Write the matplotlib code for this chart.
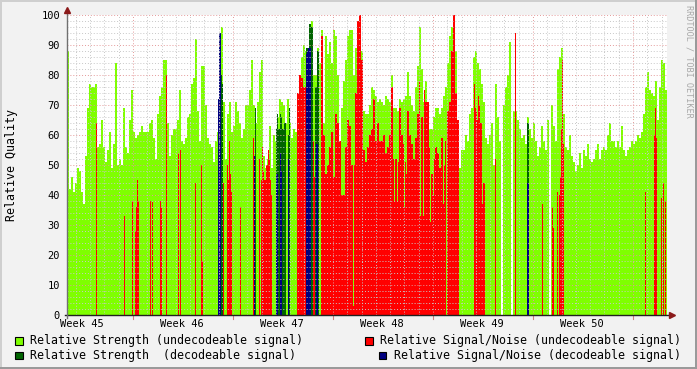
import matplotlib
matplotlib.use('Agg')
import matplotlib.pyplot as plt
from matplotlib.patches import Rectangle
import numpy as np

# ==========================================
# data: 1 column = 1/100 week, 600 columns (week 45 .. week 50)
# ==========================================
N_COLS = 600

# Relative Strength (undecodeable), one value per 2 columns
strength_undec = [
    # c0-99
    88, 42, 46, 41, 44, 49, 48, 41, 37, 53, 69, 77, 76, 76, 77, 56, 57, 65, 56, 51,
    55, 61, 49, 57, 84, 50, 52, 50, 69, 56, 54, 65, 75, 61, 59, 60, 61, 63, 61, 61,
    61, 64, 65, 59, 52, 67, 73, 76, 85, 85,
    # c100-199
    64, 53, 60, 62, 62, 65, 75, 58, 57, 59, 66, 67, 77, 79, 92, 68, 58, 83, 83, 70,
    59, 57, 56, 51, 58, 61, 90, 96, 71, 52, 67, 71, 61, 63, 71, 68, 64, 59, 62, 70,
    70, 75, 85, 70, 64, 71, 81, 85, 53, 49,
    # c200-299
    52, 63, 49, 60, 58, 66, 72, 71, 70, 64, 72, 64, 59, 62, 61, 63, 79, 86, 90, 88,
    89, 96, 98, 80, 80, 89, 84, 95, 64, 93, 87, 91, 84, 95, 93, 80, 58, 69, 78, 85,
    93, 95, 95, 80, 89, 98, 88, 88, 68, 67,
    # c300-399
    67, 70, 76, 75, 73, 71, 72, 71, 70, 73, 72, 71, 80, 69, 69, 68, 72, 71, 72, 73,
    81, 73, 70, 68, 76, 83, 96, 82, 71, 78, 70, 62, 62, 66, 69, 69, 67, 69, 73, 76,
    84, 93, 96, 93, 88, 55, 49, 55, 55, 60,
    # c400-499
    58, 67, 69, 86, 88, 84, 82, 77, 71, 59, 57, 60, 64, 50, 77, 66, 58, 0, 70, 76,
    80, 91, 0, 68, 68, 65, 62, 59, 60, 57, 66, 62, 59, 64, 58, 53, 56, 63, 58, 55,
    65, 0, 70, 63, 58, 82, 86, 89, 67, 56,
    # c500-599
    55, 60, 53, 51, 48, 50, 54, 49, 55, 53, 57, 52, 51, 52, 55, 57, 52, 55, 56, 55,
    60, 64, 58, 58, 56, 58, 56, 63, 55, 53, 55, 56, 58, 57, 58, 60, 59, 61, 67, 76,
    81, 75, 74, 73, 78, 65, 76, 85, 84, 75,
]

# Relative Signal/Noise (undecodeable): dense block from column 230, 2 columns per value
snr_block_start = 230
snr_undec_block = [
    74, 80, 79, 76, 0, 0, 0, 0, 52, 0, 41, 0, 93, 60, 47, 50, 56, 61, 46, 67,
    64, 58, 40, 40, 56, 65, 63, 50, 50, 74, 98, 100, 85, 55, 51,
    56, 60, 62, 72, 58, 64, 58, 58, 60, 54, 56, 60, 76, 52, 52, 51, 69, 60, 57, 51,
    68, 60, 57, 52, 59, 67, 78, 66, 75, 71, 71, 56, 47, 52, 56, 54, 49, 59, 50, 58,
    68, 71, 88, 100, 74, 65,
]
# single columns (column, value)
snr_undec_cols = [
    (29, 64), (57, 33), (65, 38), (68, 28), (69, 36), (70, 45), (71, 38), (83, 38),
    (85, 38), (93, 38), (94, 36), (99, 80),
    (111, 54), (113, 55), (128, 44), (134, 50), (135, 18), (156, 44), (160, 50),
    (161, 45), (162, 58), (163, 47), (164, 41), (173, 36), (186, 59), (192, 52),
    (194, 45), (195, 56), (196, 48), (197, 45), (198, 45), (199, 50),
    (200, 50), (201, 55), (202, 52), (203, 45), (204, 40), (238, 76), (246, 58),
    (247, 46), (286, 3),
    (327, 38), (330, 38), (337, 36), (339, 47), (353, 33), (356, 33), (363, 31),
    (366, 40), (376, 37), (379, 0),
    (407, 77), (408, 69), (409, 68), (410, 65), (411, 73), (412, 70), (413, 64),
    (414, 64), (415, 37), (416, 44), (417, 44), (428, 52), (448, 94), (475, 37),
    (485, 36), (486, 29), (490, 41), (492, 40), (493, 46), (494, 62), (495, 85),
    (496, 57),
    (578, 41), (587, 60), (588, 69), (589, 59), (594, 39), (596, 44), (598, 38),
]

# Relative Strength (decodeable)
strength_dec_cols = [
    (153, 85), (154, 80), (155, 77), (188, 69), (209, 62), (210, 67), (211, 62),
    (212, 62), (213, 67), (214, 66), (215, 62), (216, 62), (217, 64), (218, 64),
    (221, 60), (222, 69), (239, 89), (240, 89), (241, 89), (242, 97), (243, 97),
    (244, 96), (245, 96), (248, 76), (249, 76), (250, 88), (251, 88), (460, 64),
    (461, 64),
]
# Relative Signal/Noise (decodeable)
snr_dec_cols = [
    (151, 72), (152, 94), (153, 94), (187, 53), (209, 47), (210, 47), (213, 54),
    (214, 48), (221, 52), (239, 87), (240, 88), (241, 89), (242, 89), (243, 89),
    (249, 57), (250, 57), (460, 44), (461, 44),
]

week_labels = ["Week 45", "Week 46", "Week 47", "Week 48", "Week 49", "Week 50"]
legend_labels = [
    "Relative Strength (undecodeable signal)",
    "Relative Signal/Noise (undecodeable signal)",
    "Relative Strength  (decodeable signal)",
    "Relative Signal/Noise (decodeable signal)",
]
legend_colors = ['#7fff00', '#ff0000', '#006400', '#000080']

# ==========================================
# figure
# ==========================================
W, H = 697, 369
plt.rcParams['font.family'] = 'DejaVu Sans Mono'

fig = plt.figure(figsize=(W / 100, H / 100), dpi=100, facecolor='#f2f2f2')
ax = fig.add_axes([67 / W, 54 / H, 600 / W, 300 / H])
ax.set_facecolor('white')
ax.set_xlim(0, N_COLS)
ax.set_ylim(0, 100)
for s in ax.spines.values():
    s.set_visible(False)


def fx(px):
    return px / W


def fy(py):
    return 1 - py / H


cols = np.arange(N_COLS)

# green (2 columns per bar)
ax.bar(np.arange(0, N_COLS, 2), strength_undec, width=2, align='edge',
       color=legend_colors[0], linewidth=0, zorder=1)

# red
snr_undec = np.zeros(N_COLS)
blk = np.repeat(snr_undec_block, 2)
snr_undec[snr_block_start:snr_block_start + len(blk)] = blk
for c, v in snr_undec_cols:
    snr_undec[c] = v
ax.bar(cols, snr_undec, width=1, align='edge', color=legend_colors[1],
       linewidth=0, zorder=2)

# decodeable
ax.bar([c for c, v in strength_dec_cols], [v for c, v in strength_dec_cols],
       width=1, align='edge', color=legend_colors[2], linewidth=0, zorder=3)
ax.bar([c for c, v in snr_dec_cols], [v for c, v in snr_dec_cols],
       width=1, align='edge', color=legend_colors[3], linewidth=0, zorder=4)

# grid (dotted, drawn over the data like rrdtool)
dot = (0, (1, 2))
for y in range(2, 101, 2):
    if y % 10:
        ax.axhline(y, color='#c8c8c8', lw=0.7, ls=dot, zorder=5)
for y in range(10, 101, 10):
    ax.axhline(y, color='#e49a9a', lw=0.7, ls=dot, zorder=6)
day = 100 / 7
for k in range(-4, 38):
    x = 66 + k * day
    if 0 < x < N_COLS and k % 7:
        ax.axvline(x, color='#c8c8c8', lw=0.7, ls=dot, zorder=5)
for x in range(66, N_COLS, 100):
    ax.axvline(x, color='#e49a9a', lw=0.7, ls=dot, zorder=6)
    ax.plot([x, x], [0, -1.2], color='#d08080', lw=0.8, clip_on=False, zorder=6)

# axes lines + arrows
ax.plot([-2, 605], [0, 0], color='#202020', lw=1.0, clip_on=False, zorder=7)
ax.plot([0, 0], [-1, 101.5], color='#707070', lw=1.0, clip_on=False, zorder=7)
ax.plot(605, 0, marker='>', ms=4, color='#8b1a1a', clip_on=False, zorder=8)
ax.plot(0, 101.8, marker='^', ms=4, color='#8b1a1a', clip_on=False, zorder=8)

# ticks
ax.set_yticks(range(0, 101, 10))
ax.set_xticks([15 + 100 * k for k in range(len(week_labels))], labels=week_labels)
ax.tick_params(axis='y', length=0, pad=5, labelsize=7.5)
ax.tick_params(axis='x', length=0, pad=3, labelsize=7.5)

# labels
fig.text(fx(12), fy(165), "Relative Quality", rotation=90, ha='center',
         va='center', fontsize=8.4)
fig.text(fx(688.5), fy(5), "RRDTOOL / TOBI OETIKER", rotation=270, ha='center',
         va='top', fontsize=6.1, color='#a8a8a8')

# legend
legend_pos = [(15, 340.5), (365, 340.5), (15, 355), (379, 355)]
for (px, py), lab, col in zip(legend_pos, legend_labels, legend_colors):
    fig.add_artist(Rectangle((fx(px), fy(py + 4)), 7.5 / W, 7.5 / H,
                             facecolor=col, edgecolor='black', lw=0.8,
                             transform=fig.transFigure))
    fig.text(fx(px + 15), fy(py), lab, va='center', ha='left', fontsize=8.4)

# 3d frame
fig.add_artist(Rectangle((0, fy(2)), 1, 2 / H, facecolor='#cfcfcf', lw=0,
                         transform=fig.transFigure))
fig.add_artist(Rectangle((0, 0), 2 / W, 1, facecolor='#cfcfcf', lw=0,
                         transform=fig.transFigure))
fig.add_artist(Rectangle((0, 0), 1, 2 / H, facecolor='#9a9a9a', lw=0,
                         transform=fig.transFigure))
fig.add_artist(Rectangle((fx(W - 2), 0), 2 / W, 1, facecolor='#9a9a9a', lw=0,
                         transform=fig.transFigure))

fig.savefig('out.png', dpi=100, facecolor=fig.get_facecolor())
